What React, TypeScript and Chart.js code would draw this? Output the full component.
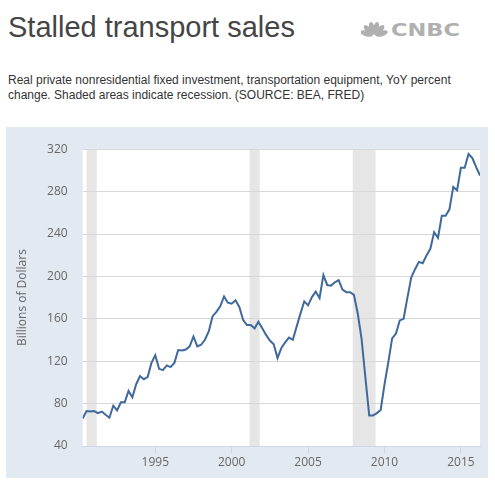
import React, { useEffect, useRef } from "react";
import { Chart, registerables } from "chart.js";

Chart.register(...registerables);

// Quarter start dates (YYYY-MM)
const quarters: string[] = [
  "1990-04", "1990-07", "1990-10",
  "1991-01", "1991-04", "1991-07", "1991-10",
  "1992-01", "1992-04", "1992-07", "1992-10",
  "1993-01", "1993-04", "1993-07", "1993-10",
  "1994-01", "1994-04", "1994-07", "1994-10",
  "1995-01", "1995-04", "1995-07", "1995-10",
  "1996-01", "1996-04", "1996-07", "1996-10",
  "1997-01", "1997-04", "1997-07", "1997-10",
  "1998-01", "1998-04", "1998-07", "1998-10",
  "1999-01", "1999-04", "1999-07", "1999-10",
  "2000-01", "2000-04", "2000-07", "2000-10",
  "2001-01", "2001-04", "2001-07", "2001-10",
  "2002-01", "2002-04", "2002-07", "2002-10",
  "2003-01", "2003-04", "2003-07", "2003-10",
  "2004-01", "2004-04", "2004-07", "2004-10",
  "2005-01", "2005-04", "2005-07", "2005-10",
  "2006-01", "2006-04", "2006-07", "2006-10",
  "2007-01", "2007-04", "2007-07", "2007-10",
  "2008-01", "2008-04", "2008-07", "2008-10",
  "2009-01", "2009-04", "2009-07", "2009-10",
  "2010-01", "2010-04", "2010-07", "2010-10",
  "2011-01", "2011-04", "2011-07", "2011-10",
  "2012-01", "2012-04", "2012-07", "2012-10",
  "2013-01", "2013-04", "2013-07", "2013-10",
  "2014-01", "2014-04", "2014-07", "2014-10",
  "2015-01", "2015-04", "2015-07", "2015-10",
  "2016-01", "2016-04",
];

// Billions of dollars
const values: number[] = [
  66, 73, 72.5,
  73, 71, 72.5, 69.5,
  66.7, 78, 73.5, 81.2,
  81.2, 92, 86, 98.3,
  106, 103, 105, 118.4,
  125.6, 112.8, 111.6, 116,
  114.4, 118.4, 130.5, 130.2,
  131, 134, 143.3, 134,
  135.5, 140.2, 148, 162.5,
  166.5, 171.8, 181.1, 175.2,
  174.3, 177.4, 171.2, 158.8,
  154.1, 154.1, 151, 157.2,
  151, 144.8, 139.5, 136,
  123, 132.4, 137.7, 142.3,
  140.2, 152.6, 164.9, 176.5,
  172.7, 180.5, 185.7, 179.5,
  201.2, 191.9, 191.3, 194.4,
  196.5, 187.6, 185.1, 185.1,
  182.5, 165, 141, 104.5,
  68.8, 68.8, 71, 74,
  98, 119, 141.5, 146,
  158.5, 160, 180, 199,
  206.8, 213.7, 212.4, 219.8,
  226, 241.6, 236.3, 257.1,
  257.1, 263.3, 284.4, 281.3,
  302.4, 302.4, 315.4, 311.6,
  303, 295.2,
];

const recessionStarts: string[] = ["1990-07", "2001-03", "2007-12"];
const recessionEnds: string[] = ["1991-03", "2001-11", "2009-06"];

const xTickYears: number[] = [1995, 2000, 2005, 2010, 2015];
const yTickValues: number[] = [40, 80, 120, 160, 200, 240, 280, 320];

const xMin = "1990-04";
const xMax = "2016-04";

const toYear = (s: string) => {
  const [y, m] = s.split("-").map(Number);
  return y + (m - 1) / 12;
};

const tickFont = { family: "'Open Sans', sans-serif", size: 12 };

const bgPlugin = {
  id: "bgAndRecessions",
  beforeDraw(chart: any) {
    const { ctx, chartArea, scales } = chart;
    if (!chartArea) return;
    ctx.save();
    ctx.fillStyle = "#ffffff";
    ctx.fillRect(chartArea.left, chartArea.top, chartArea.right - chartArea.left, chartArea.bottom - chartArea.top);
    ctx.fillStyle = "#e6e6e6";
    const xs = scales.x;
    recessionStarts.forEach((s, i) => {
      const x0 = xs.getPixelForValue(toYear(s));
      const x1 = xs.getPixelForValue(toYear(recessionEnds[i]));
      ctx.fillRect(x0, chartArea.top, x1 - x0, chartArea.bottom - chartArea.top);
    });
    ctx.restore();
  },
};

function TransportChart() {
  const ref = useRef<HTMLCanvasElement | null>(null);
  useEffect(() => {
    if (!ref.current) return;
    const data = quarters.map((q, i) => ({ x: toYear(q), y: values[i] }));
    const chart = new Chart(ref.current, {
      type: "line",
      data: {
        datasets: [
          {
            data,
            borderColor: "#40699b",
            borderWidth: 2,
            pointRadius: 0,
            tension: 0,
            fill: false,
          },
        ],
      },
      options: {
        animation: false,
        responsive: false,
        maintainAspectRatio: false,
        layout: { padding: { top: 18, right: 8, left: 0, bottom: 0 } },
        plugins: { legend: { display: false }, tooltip: { enabled: false } },
        scales: {
          x: {
            type: "linear",
            min: toYear(xMin),
            max: toYear(xMax),
            afterBuildTicks: (s: any) => {
              s.ticks = xTickYears.map((v) => ({ value: v }));
            },
            afterFit: (s: any) => {
              s.height = 32;
            },
            ticks: {
              callback: (v: any) => String(v),
              font: tickFont,
              color: "#666666",
              padding: 2,
              maxRotation: 0,
              autoSkip: false,
            },
            grid: {
              drawOnChartArea: false,
              drawTicks: true,
              tickLength: 7,
              color: "#ccd6eb",
            },
            border: { color: "#ccd6eb" },
          },
          y: {
            min: 40,
            max: 320,
            afterBuildTicks: (s: any) => {
              s.ticks = yTickValues.map((v) => ({ value: v }));
            },
            afterFit: (s: any) => {
              s.width = 76.7;
            },
            ticks: { font: tickFont, color: "#666666", padding: 15 },
            grid: { color: "#d8d8d8", drawTicks: false },
            border: { display: false },
            title: {
              display: true,
              text: "Billions of Dollars",
              font: tickFont,
              color: "#666666",
              padding: { top: 9, bottom: 0 },
            },
          },
        },
      },
      plugins: [bgPlugin],
    } as any);
    return () => chart.destroy();
  }, []);
  return <canvas ref={ref} width={482} height={351} style={{ display: "block" }} />;
}

function CnbcLogo() {
  const feathers = [-72, -43, -14, 14, 43, 72];
  return (
    <svg width={110} height={22} viewBox="0 0 110 22" style={{ position: "absolute", left: 361, top: 18 }}>
      <g fill="#b0b0b0">
        {feathers.map((a, i) => (
          <ellipse key={i} cx={13} cy={10} rx={2.8} ry={6.5} transform={`rotate(${a} 13 18)`} />
        ))}
      </g>
      <text
        x={30}
        y={18}
        textLength={69}
        lengthAdjust="spacingAndGlyphs"
        fill="#b0b0b0"
        fontFamily="'DejaVu Sans', sans-serif"
        fontWeight="bold"
        fontSize={17}
      >
        CNBC
      </text>
    </svg>
  );
}

export default function App() {
  return (
    <div style={{ position: "absolute", left: 0, top: 0, width: 495, height: 485, background: "#fff", overflow: "hidden" }}>
      <div
        style={{
          position: "absolute",
          left: 8,
          top: 13,
          fontFamily: "'Liberation Sans', Arial, sans-serif",
          fontSize: 29,
          lineHeight: "29px",
          color: "#454545",
          whiteSpace: "nowrap",
        }}
      >
        Stalled transport sales
      </div>
      <CnbcLogo />
      <div
        style={{
          position: "absolute",
          left: 8,
          top: 73,
          fontFamily: "'Liberation Sans', Arial, sans-serif",
          fontSize: 12,
          lineHeight: "15px",
          color: "#333333",
          whiteSpace: "nowrap",
        }}
      >
        Real private nonresidential fixed investment, transportation equipment, YoY percent
        <br />
        change. Shaded areas indicate recession. (SOURCE: BEA, FRED)
      </div>
      <div
        style={{
          position: "absolute",
          left: 6,
          top: 127,
          width: 482,
          height: 351,
          background: "#e3e9f1",
        }}
      >
        <TransportChart />
      </div>
    </div>
  );
}
